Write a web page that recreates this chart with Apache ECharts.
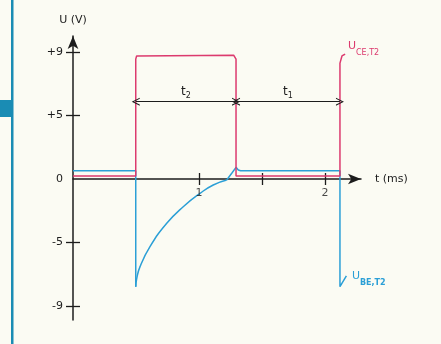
<!DOCTYPE html>
<html><head><meta charset="utf-8">
<script src="https://cdn.jsdelivr.net/npm/echarts@6/dist/echarts.min.js"></script>
<style>html,body{margin:0;padding:0;background:#fbfbf3;}#c{width:441px;height:344px;}</style>
</head><body><div id="c"></div>
<script>
// y tick voltages and their (hand-drawn, equally spaced) axis positions
const yTickVolts = [-9, -5, 0, 5, 9];
const yTickPos = [-2, -1, 0, 1, 2];
const yTickLabels = ['-9', '-5', '0', '+5', '+9'];
const xTickValues = [1, 1.5, 2];
const xLabelValues = [1, 2];
// U_CE,T2 : [t (ms), U (V)]
const uceTime = [0, 0.498, 0.498, 0.505, 0.52, 1.275, 1.29, 1.294, 1.294, 2.119, 2.119, 2.135, 2.16];
const uceVolt = [0.24, 0.24, 8.55, 8.75, 8.8, 8.8, 8.75, 8.55, 0.24, 0.24, 8.3, 8.75, 8.87];
// U_BE,T2 : flat / step parts
const ubeStepTime = [0, 0.498, 0.498];
const ubeStepVolt = [0.65, 0.65, -7.78];
// U_BE,T2 : recovery curve after switching
const ubeCurveTime = [0.498, 0.505, 0.532, 0.611, 0.744, 0.875, 1.008, 1.113, 1.22];
const ubeCurveVolt = [-7.78, -7.3, -6.52, -5.26, -3.49, -2.18, -1.13, -0.47, -0.08];
// U_BE,T2 : overshoot, second low phase, second drop
const ubeTailTime = [1.22, 1.26, 1.294, 1.312, 1.33, 2.119, 2.119, 2.17];
const ubeTailVolt = [-0.08, 0.45, 0.92, 0.71, 0.65, 0.65, -7.78, -7.1];
// interval arrows t2 and t1
const arrowLevel = 5.87;
const t2Span = [0.498, 1.294];
const t1Span = [1.294, 2.119];

function toAxis(v) {
  for (let i = 0; i < yTickVolts.length - 1; i++) {
    const a = yTickVolts[i], b = yTickVolts[i + 1];
    if (v >= a && v <= b) return yTickPos[i] + (v - a) / (b - a) * (yTickPos[i + 1] - yTickPos[i]);
  }
  return v < yTickVolts[0] ? yTickPos[0] : yTickPos[yTickPos.length - 1];
}
const PINK = '#dc3a6e', BLUE = '#2b9fd6', INK = '#1c1c1c';
const FONT = 'DejaVu Sans';
const chevron = 'path://M0,10 L5,0 L10,10 L8.6,10 L5,2.8 L1.4,10 Z';

const ymax = 2.252, ymin = -2.22, xmax = 2.286;
const axisCommon = { min: 0, max: xmax, type: 'value', splitLine: { show: false } };
const blueLine = { color: BLUE, width: 1.5 };
const chart = echarts.init(document.getElementById('c'));
chart.setOption({
  backgroundColor: '#fbfbf3',
  animation: false,
  grid: { left: 73, right: 80, top: 36, bottom: 24 },
  xAxis: [
    Object.assign({}, axisCommon, {
      position: 'bottom',
      name: 't (ms)', nameLocation: 'end', nameGap: 14,
      nameTextStyle: { color: INK, fontFamily: FONT, fontSize: 11, verticalAlign: 'middle' },
      axisLine: { onZero: true, symbol: ['none', 'arrow'], symbolSize: [8, 13], lineStyle: { color: INK, width: 1.5 } },
      axisTick: { show: true, inside: false, length: 6, customValues: xTickValues, lineStyle: { color: INK, width: 1.3 } },
      axisLabel: { show: false }
    }),
    Object.assign({}, axisCommon, {
      position: 'bottom',
      axisLine: { onZero: true, show: false },
      axisTick: { show: true, inside: true, length: 6, customValues: xTickValues, lineStyle: { color: INK, width: 1.3 } },
      axisLabel: { show: false }
    })
  ],
  yAxis: [
    {
      type: 'value', min: ymin, max: ymax, position: 'left', splitLine: { show: false },
      name: 'U (V)', nameLocation: 'end', nameGap: 10,
      nameTextStyle: { color: INK, fontFamily: FONT, fontSize: 11, align: 'center' },
      axisLine: { show: true, symbol: ['none', 'arrow'], symbolSize: [8, 13], lineStyle: { color: INK, width: 1.5 } },
      axisTick: { show: true, inside: false, length: 7, customValues: [-2, -1, 1, 2], lineStyle: { color: INK, width: 1.3 } },
      axisLabel: { show: true, customValues: yTickPos, margin: 10, color: INK, fontFamily: FONT, fontSize: 11,
        formatter: v => yTickLabels[yTickPos.indexOf(Math.round(v))] }
    },
    {
      type: 'value', min: ymin, max: ymax, position: 'left', splitLine: { show: false },
      axisLine: { show: false },
      axisTick: { show: true, inside: true, length: 7, customValues: [-2, -1, 1, 2], lineStyle: { color: INK, width: 1.3 } },
      axisLabel: { show: false }
    }
  ],
  series: [
    { type: 'line', showSymbol: false, data: ubeStepTime.map((t, i) => [t, toAxis(ubeStepVolt[i])]), lineStyle: blueLine, z: 3 },
    { type: 'line', showSymbol: false, smooth: 0.5, data: ubeCurveTime.map((t, i) => [t, toAxis(ubeCurveVolt[i])]), lineStyle: blueLine, z: 3 },
    { type: 'line', showSymbol: false, data: ubeTailTime.map((t, i) => [t, toAxis(ubeTailVolt[i])]), lineStyle: blueLine, z: 3 },
    {
      name: 'UCE', type: 'line', showSymbol: false,
      data: uceTime.map((t, i) => [t, toAxis(uceVolt[i])]),
      lineStyle: { color: PINK, width: 1.5 }, z: 4,
      markLine: {
        silent: true, symbol: [chevron, chevron], symbolSize: [8, 8],
        lineStyle: { color: INK, width: 1.2, type: 'solid' },
        label: { show: true, position: 'middle', distance: 2, color: INK, fontFamily: FONT,
          formatter: p => p.name,
          rich: { t: { fontSize: 12, color: INK, fontFamily: FONT }, s: { fontSize: 8, color: INK, fontFamily: FONT, padding: [8, 0, 0, 0] } } },
        data: [
          [{ name: '{t|t}{s|2}', coord: [t2Span[0], toAxis(arrowLevel)] }, { coord: [t2Span[1], toAxis(arrowLevel)] }],
          [{ name: '{t|t}{s|1}', coord: [t1Span[0], toAxis(arrowLevel)] }, { coord: [t1Span[1], toAxis(arrowLevel)] }]
        ]
      }
    },
    {
      type: 'scatter', symbolSize: 0, silent: true, z: 5,
      data: xLabelValues.map(v => [v, 0]),
      label: { show: true, position: 'bottom', color: INK, fontFamily: FONT, fontSize: 11,
        formatter: p => String(p.value[0]),
        offset: [0, 4] }
    }
  ],
  graphic: [
    { type: 'rect', shape: { x: 11, y: 0, width: 2.5, height: 344 }, style: { fill: '#1a8cb4' } },
    { type: 'rect', shape: { x: 0, y: 100, width: 12, height: 17 }, style: { fill: '#1a8cb4' } },
    { type: 'text', x: 348, y: 41, style: { text: 'U', fill: PINK, font: '11px ' + FONT } },
    { type: 'text', x: 356, y: 49, style: { text: 'CE,T2', fill: PINK, font: '8px ' + FONT } },
    { type: 'text', x: 352, y: 271, style: { text: 'U', fill: BLUE, font: '11px ' + FONT } },
    { type: 'text', x: 360, y: 279, style: { text: 'BE,T2', fill: BLUE, font: 'bold 8px ' + FONT } }
  ]
});
</script></body></html>
